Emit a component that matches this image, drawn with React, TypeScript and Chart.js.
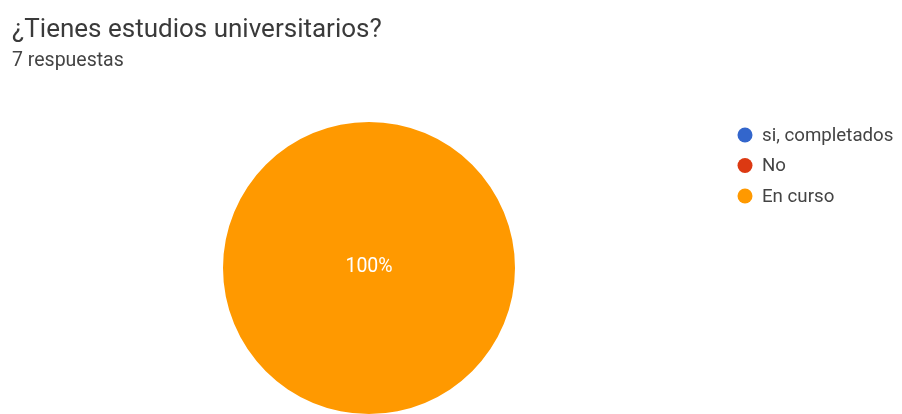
import React, { useEffect, useRef } from "react";
import { Chart, registerables } from "chart.js";

Chart.register(...registerables);

const TITLE = "¿Tienes estudios universitarios?";
const SUBTITLE = "7 respuestas";
const CATEGORIES = ["si, completados", "No", "En curso"];
const VALUES = [0, 0, 7];
const COLORS = ["#3366CC", "#DC3912", "#FF9900"];

const W = 902;
const H = 414;

const overlayPlugin = {
  id: "overlayPlugin",
  afterDraw(chart: any) {
    const ctx = chart.ctx;
    const ds = chart.data.datasets[0];
    const labels = chart.data.labels as string[];
    const colors = ds.backgroundColor as string[];
    // legend
    ctx.save();
    ctx.font = "18.7px Roboto";
    ctx.textBaseline = "middle";
    labels.forEach((lab, i) => {
      const y = 135 + i * 30.5;
      ctx.beginPath();
      ctx.fillStyle = colors[i];
      ctx.arc(745, y, 7.5, 0, Math.PI * 2);
      ctx.fill();
      ctx.fillStyle = "#444444";
      ctx.textAlign = "left";
      ctx.fillText(lab, 762, y + 1);
    });
    // percentage labels
    const data = ds.data as number[];
    const total = data.reduce((a, b) => a + b, 0);
    const meta = chart.getDatasetMeta(0);
    ctx.font = "19.5px Roboto";
    ctx.fillStyle = "#ffffff";
    ctx.textAlign = "center";
    data.forEach((v, i) => {
      if (!v) return;
      const arc = meta.data[i] as any;
      const pct = Math.round((v / total) * 100) + "%";
      let pos;
      if (v === total) pos = { x: arc.x, y: arc.y };
      else pos = arc.tooltipPosition();
      ctx.fillText(pct, pos.x, pos.y - 1);
    });
    ctx.restore();
  },
};

export default function App() {
  const ref = useRef<HTMLCanvasElement>(null);
  useEffect(() => {
    if (!ref.current) return;
    const chart = new Chart(ref.current, {
      type: "pie",
      data: {
        labels: CATEGORIES,
        datasets: [
          {
            data: VALUES,
            backgroundColor: COLORS,
            borderWidth: 0,
            hoverOffset: 0,
          },
        ],
      },
      options: {
        animation: false,
        responsive: false,
        radius: 146,
        layout: { padding: { left: 223, right: W - 515, top: 122, bottom: 0 } },
        plugins: {
          legend: { display: false },
          tooltip: { enabled: false },
          title: { display: false },
        },
      } as any,
      plugins: [overlayPlugin],
    });
    return () => chart.destroy();
  }, []);
  return (
    <div style={{ position: "absolute", left: 0, top: 0, width: W, height: H, background: "#fff", overflow: "hidden" }}>
      <canvas ref={ref} width={W} height={H} style={{ position: "absolute", left: 0, top: 0 }} />
      <div
        style={{
          position: "absolute",
          left: 12,
          top: 15,
          fontFamily: "Roboto",
          fontSize: 26,
          color: "#3a3a3a",
          whiteSpace: "nowrap",
          lineHeight: "26px",
        }}
      >
        {TITLE}
      </div>
      <div
        style={{
          position: "absolute",
          left: 12,
          top: 50,
          fontFamily: "Roboto",
          fontSize: 19.5,
          color: "#444444",
          whiteSpace: "nowrap",
          lineHeight: "19.5px",
        }}
      >
        {SUBTITLE}
      </div>
    </div>
  );
}
